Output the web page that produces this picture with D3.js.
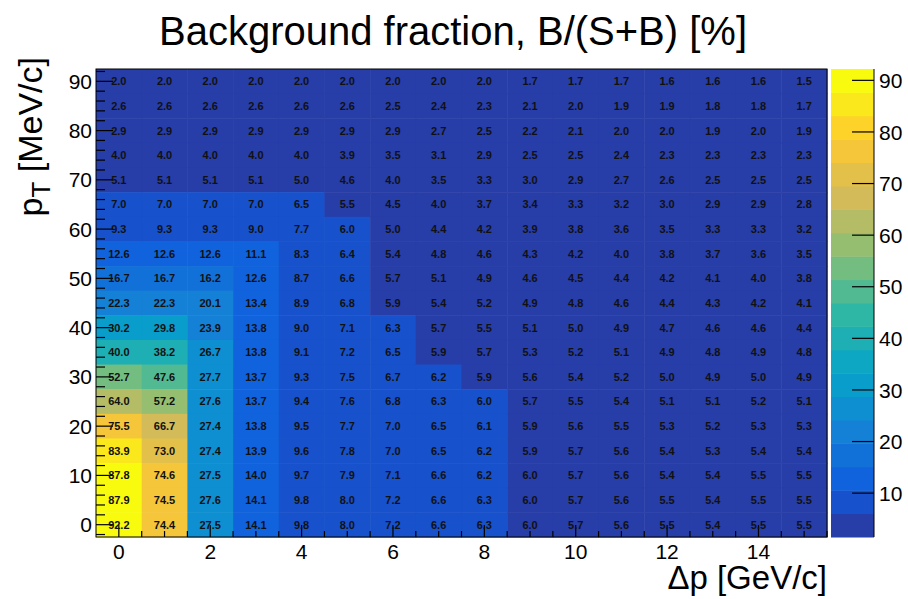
<!DOCTYPE html>
<html>
<head>
<meta charset="utf-8">
<script src="https://cdn.jsdelivr.net/npm/d3@7"></script>
<style>
  body { margin: 0; background: #fff; }
  svg text { font-family: "Liberation Sans", Arial, Helvetica, sans-serif; }
</style>
</head>
<body>
<svg id="chart" width="908" height="599"></svg>
<script>
// bin centres
var deltaP = [0,1,2,3,4,5,6,7,8,9,10,11,12,13,14,15]
var ptBins = [90,85,80,75,70,65,60,55,50,45,40,35,30,25,20,15,10,5,0]

// background fraction in %, one row per pT bin (top row = 90 MeV/c)
var fractionRows = [
  [2.0,2.0,2.0,2.0,2.0,2.0,2.0,2.0,2.0,1.7,1.7,1.7,1.6,1.6,1.6,1.5],
  [2.6,2.6,2.6,2.6,2.6,2.6,2.5,2.4,2.3,2.1,2.0,1.9,1.9,1.8,1.8,1.7],
  [2.9,2.9,2.9,2.9,2.9,2.9,2.9,2.7,2.5,2.2,2.1,2.0,2.0,1.9,2.0,1.9],
  [4.0,4.0,4.0,4.0,4.0,3.9,3.5,3.1,2.9,2.5,2.5,2.4,2.3,2.3,2.3,2.3],
  [5.1,5.1,5.1,5.1,5.0,4.6,4.0,3.5,3.3,3.0,2.9,2.7,2.6,2.5,2.5,2.5],
  [7.0,7.0,7.0,7.0,6.5,5.5,4.5,4.0,3.7,3.4,3.3,3.2,3.0,2.9,2.9,2.8],
  [9.3,9.3,9.3,9.0,7.7,6.04,5.0,4.4,4.2,3.9,3.8,3.6,3.5,3.3,3.3,3.2],
  [12.6,12.6,12.6,11.1,8.3,6.4,5.4,4.8,4.6,4.3,4.2,4.0,3.8,3.7,3.6,3.5],
  [16.7,16.7,16.2,12.6,8.7,6.6,5.7,5.1,4.9,4.6,4.5,4.4,4.2,4.1,4.0,3.8],
  [22.3,22.3,20.1,13.4,8.9,6.8,5.9,5.4,5.2,4.9,4.8,4.6,4.4,4.3,4.2,4.1],
  [30.2,29.8,23.9,13.8,9.0,7.1,6.3,5.7,5.5,5.1,5.0,4.9,4.7,4.6,4.6,4.4],
  [40.0,38.2,26.7,13.8,9.1,7.2,6.5,5.9,5.7,5.3,5.2,5.1,4.9,4.8,4.9,4.8],
  [52.7,47.6,27.7,13.7,9.3,7.5,6.7,6.2,5.9,5.6,5.4,5.2,5.0,4.9,5.0,4.9],
  [64.0,57.2,27.6,13.7,9.4,7.6,6.8,6.3,6.04,5.7,5.5,5.4,5.1,5.1,5.2,5.1],
  [75.5,66.7,27.4,13.8,9.5,7.7,7.0,6.5,6.1,5.9,5.6,5.5,5.3,5.2,5.3,5.3],
  [83.9,73.0,27.4,13.9,9.6,7.8,7.0,6.5,6.2,5.9,5.7,5.6,5.4,5.3,5.4,5.4],
  [87.8,74.6,27.5,14.0,9.7,7.9,7.1,6.6,6.2,5.98,5.7,5.6,5.4,5.4,5.5,5.5],
  [87.9,74.5,27.6,14.1,9.8,8.0,7.2,6.6,6.3,5.98,5.7,5.6,5.5,5.4,5.5,5.5],
  [92.2,74.4,27.5,14.1,9.8,8.0,7.2,6.6,6.3,5.98,5.7,5.6,5.5,5.4,5.5,5.5]
]

var xTickLabels = [0,2,4,6,8,10,12,14]
var yTickLabels = [0,10,20,30,40,50,60,70,80,90]
var zTickLabels = [10,20,30,40,50,60,70,80,90]

// ROOT kBird palette stops
var birdStops = [0.0,0.125,0.25,0.375,0.5,0.625,0.75,0.875,1.0]
var birdColors = ["#352a87","#0f5cdd","#1481d6","#06a4ca","#2eb7a4","#87bf77","#d1bb59","#fec832","#f9fb0e"]

var nLevels = 20, nColors = 255

var svg = d3.select("#chart")
var frame = {left: 96, right: 827, top: 69, bottom: 537}

var x = d3.scaleLinear().domain([-0.5, 15.5]).range([frame.left, frame.right])
var y = d3.scaleLinear().domain([-2.5, 92.5]).range([frame.bottom, frame.top])

var cells = []
fractionRows.forEach(function(row, i){
  row.forEach(function(v, j){
    cells.push({dp: deltaP[j], pt: ptBins[i], v: v})
  })
})

var zMin = d3.min(cells, function(d){ return d.v }),
    zMax = d3.max(cells, function(d){ return d.v })
var dz = (zMax - zMin) / nLevels

var bird = d3.scaleLinear().domain(birdStops).range(birdColors).interpolate(d3.interpolateRgb)

function levelColor(k){
  var idx = Math.floor((k + 0.99) * nColors / nLevels)
  return bird(idx / (nColors - 1))
}
function level(v){
  var k = Math.floor((v - zMin) / dz)
  return Math.max(0, Math.min(nLevels - 1, k))
}

var cw = x(1) - x(0), ch = y(0) - y(5)

// cells
svg.append("g").selectAll("rect")
  .data(cells)
  .enter().append("rect")
    .attr("x", function(d){ return x(d.dp - 0.5) })
    .attr("y", function(d){ return y(d.pt + 2.5) })
    .attr("width", cw + 0.5)
    .attr("height", ch + 0.5)
    .attr("fill", function(d){ return levelColor(level(d.v)) })

// frame
svg.append("rect")
  .attr("x", frame.left).attr("y", frame.top)
  .attr("width", frame.right - frame.left).attr("height", frame.bottom - frame.top)
  .attr("fill", "none").attr("stroke", "#000").attr("stroke-width", 1)

var axisG = svg.append("g").attr("stroke", "#000").attr("stroke-width", 1.2)

// y ticks: major every 10, minor every 2
d3.range(-2, 93, 2).forEach(function(t){
  var len = (t % 10 === 0) ? 17 : 9
  axisG.append("line")
    .attr("x1", frame.left).attr("x2", frame.left + len)
    .attr("y1", y(t)).attr("y2", y(t))
})
// x ticks: major every 2, minor every 0.5
d3.range(0, 15.51, 0.5).forEach(function(t){
  var len = (t % 2 === 0) ? 12 : 6
  axisG.append("line")
    .attr("x1", x(t)).attr("x2", x(t))
    .attr("y1", frame.bottom).attr("y2", frame.bottom - len)
})

// cell text
var fmt = d3.format(".1f")
svg.append("g").selectAll("text")
  .data(cells)
  .enter().append("text")
    .attr("x", function(d){ return x(d.dp) })
    .attr("y", function(d){ return y(d.pt) })
    .attr("dy", "0.36em")
    .attr("text-anchor", "middle")
    .attr("font-size", 11)
    .attr("font-weight", "bold")
    .attr("fill", "#111")
    .text(function(d){ return fmt(d.v) })

// tick labels
svg.append("g").selectAll("text")
  .data(yTickLabels)
  .enter().append("text")
    .attr("x", frame.left - 4)
    .attr("y", function(d){ return y(d) })
    .attr("dy", "0.36em")
    .attr("text-anchor", "end")
    .attr("font-size", 21)
    .text(function(d){ return d })

svg.append("g").selectAll("text")
  .data(xTickLabels)
  .enter().append("text")
    .attr("x", function(d){ return x(d) })
    .attr("y", 559)
    .attr("text-anchor", "middle")
    .attr("font-size", 21)
    .text(function(d){ return d })

// colour bar
var bar = {left: 831, right: 874}
var z = d3.scaleLinear().domain([zMin, zMax]).range([frame.bottom, frame.top])

svg.append("g").selectAll("rect")
  .data(d3.range(nLevels))
  .enter().append("rect")
    .attr("x", bar.left)
    .attr("width", bar.right - bar.left)
    .attr("y", function(k){ return z(zMin + (k + 1) * dz) })
    .attr("height", function(k){ return z(zMin + k * dz) - z(zMin + (k + 1) * dz) + 0.5 })
    .attr("fill", function(k){ return levelColor(k) })

svg.append("line")
  .attr("x1", bar.right).attr("x2", bar.right)
  .attr("y1", frame.top).attr("y2", frame.bottom)
  .attr("stroke", "#000").attr("stroke-width", 1)

zTickLabels.forEach(function(t){
  svg.append("line")
    .attr("x1", bar.right - 22).attr("x2", bar.right)
    .attr("y1", z(t)).attr("y2", z(t))
    .attr("stroke", "#000").attr("stroke-width", 1.2)
  svg.append("text")
    .attr("x", bar.right + 5)
    .attr("y", z(t))
    .attr("dy", "0.36em")
    .attr("font-size", 21)
    .text(t)
})

// titles
svg.append("text")
  .attr("x", 453).attr("y", 45)
  .attr("text-anchor", "middle")
  .attr("font-size", 40)
  .text("Background fraction, B/(S+B) [%]")

svg.append("text")
  .attr("x", frame.right).attr("y", 589)
  .attr("text-anchor", "end")
  .attr("font-size", 33)
  .text("\u0394p [GeV/c]")

var yTitle = svg.append("text")
  .attr("transform", "translate(42,57) rotate(-90)")
  .attr("text-anchor", "end")
  .attr("font-size", 34)
yTitle.append("tspan").text("p")
yTitle.append("tspan").attr("font-size", 26).attr("dy", 8).text("T")
yTitle.append("tspan").attr("dy", -8).text(" [MeV/c]")
</script>
</body>
</html>
